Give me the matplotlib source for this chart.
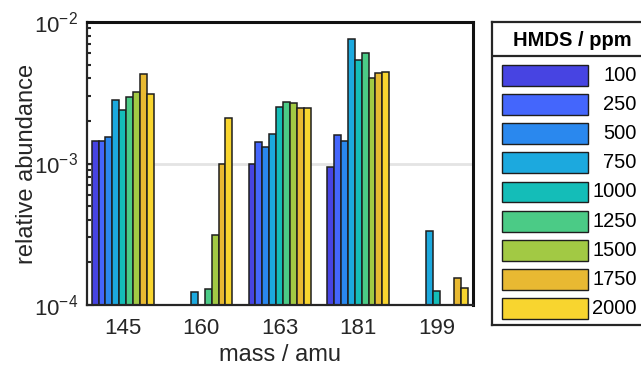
import numpy as np
import matplotlib
matplotlib.use('Agg')
import matplotlib.pyplot as plt
from matplotlib.patches import Rectangle
from matplotlib.ticker import LogLocator, NullFormatter

plt.rcParams['font.family'] = ['Liberation Sans', 'DejaVu Sans']
plt.rcParams['mathtext.fontset'] = 'custom'
plt.rcParams['mathtext.rm'] = 'Liberation Sans'
plt.rcParams['mathtext.it'] = 'Liberation Sans:italic'
plt.rcParams['axes.unicode_minus'] = False

# ---- data ----
groups = ['145', '160', '163', '181', '199']
concentrations = ['100', '250', '500', '750', '1000', '1250', '1500', '1750', '2000']
nan = np.nan
abund_100 = [1.45e-3, nan, 1.00e-3, 9.4e-4, nan]
abund_250 = [1.44e-3, nan, 1.42e-3, 1.58e-3, nan]
abund_500 = [1.54e-3, nan, 1.31e-3, 1.44e-3, nan]
abund_750 = [2.83e-3, 1.24e-4, 1.61e-3, 7.6e-3, 3.33e-4]
abund_1000 = [2.38e-3, nan, 2.51e-3, 5.42e-3, 1.26e-4]
abund_1250 = [2.95e-3, 1.29e-4, 2.72e-3, 6.07e-3, nan]
abund_1500 = [3.22e-3, 3.12e-4, 2.69e-3, 4.02e-3, nan]
abund_1750 = [4.27e-3, 1.00e-3, 2.47e-3, 4.38e-3, 1.54e-4]
abund_2000 = [3.12e-3, 2.08e-3, 2.47e-3, 4.43e-3, 1.31e-4]
series = [abund_100, abund_250, abund_500, abund_750, abund_1000,
          abund_1250, abund_1500, abund_1750, abund_2000]
colors = ['#4744E2', '#4466FC', '#2A88EE', '#1CA9DE', '#14BDB8',
          '#4BCB86', '#A2C944', '#E8B932', '#F8D52F']

edge = '#1e1e1e'
axcol = '#262626'

fig = plt.figure(figsize=(6.41, 3.66), dpi=100)
W, H = 641, 366
ax = fig.add_axes([86.7 / W, 1 - 305 / H, (472.7 - 86.7) / W, (305 - 22) / H])

n = len(series)
bw = 0.0883
x = np.arange(len(groups))
for i, (vals, col) in enumerate(zip(series, colors)):
    ax.bar(x + (i - (n - 1) / 2) * bw, vals, width=bw, color=col,
           edgecolor=edge, linewidth=1.1, zorder=2)

ax.set_yscale('log')
ax.set_ylim(1e-4, 1e-2)
ax.set_xlim(-0.46, 4.46)
ax.set_xticks(x, groups)
ax.yaxis.set_major_locator(LogLocator(base=10, numticks=10))
ax.yaxis.set_minor_locator(LogLocator(base=10, subs=np.arange(2, 10), numticks=10))
ax.yaxis.set_minor_formatter(NullFormatter())
ax.yaxis.grid(True, which='major', color='#e4e4e4', linewidth=2.0, zorder=0)
ax.set_axisbelow(True)

ax.tick_params(axis='x', length=0, pad=9, labelsize=16, colors=axcol)
ax.tick_params(axis='y', which='major', direction='in', length=5, width=1.5,
               pad=6, labelsize=16, colors=axcol)
ax.tick_params(axis='y', which='minor', direction='in', length=3, width=1.5, colors=axcol)

for side in ['left', 'bottom']:
    ax.spines[side].set_linewidth(1.6)
    ax.spines[side].set_color(axcol)
for side in ['top', 'right']:
    ax.spines[side].set_linewidth(2.2)
    ax.spines[side].set_color('#111111')

ax.set_xlabel('mass / amu', fontsize=17, color=axcol, labelpad=4)
ax.set_ylabel('relative abundance', fontsize=17, color=axcol, labelpad=-3)

# ---- legend (drawn in its own box) ----
L, R, T, B = 491.7, 652.0, 21.7, 325.0
lax = fig.add_axes([L / W, 1 - B / H, (R - L) / W, (B - T) / H])
lax.set_xlim(L, R)
lax.set_ylim(B, T)
lax.set_xticks([])
lax.set_yticks([])
for s in lax.spines.values():
    s.set_linewidth(1.6)
    s.set_color(axcol)
lax.text((L + R) / 2, 40, 'HMDS / ppm', ha='center', va='center',
         fontsize=14.5, fontweight='bold', color='black')
lax.axhline(56, color=axcol, linewidth=1.6)
for i, (lab, col) in enumerate(zip(concentrations, colors)):
    y0 = 65 + i * 29.16
    lax.add_patch(Rectangle((501.7, y0), 86.6, 20.7, facecolor=col,
                            edgecolor=edge, linewidth=1.0))
    lax.text(636.7, y0 + 10.35, lab, ha='right', va='center',
             fontsize=14.5, color='black')

fig.savefig('out.png', dpi=100)
